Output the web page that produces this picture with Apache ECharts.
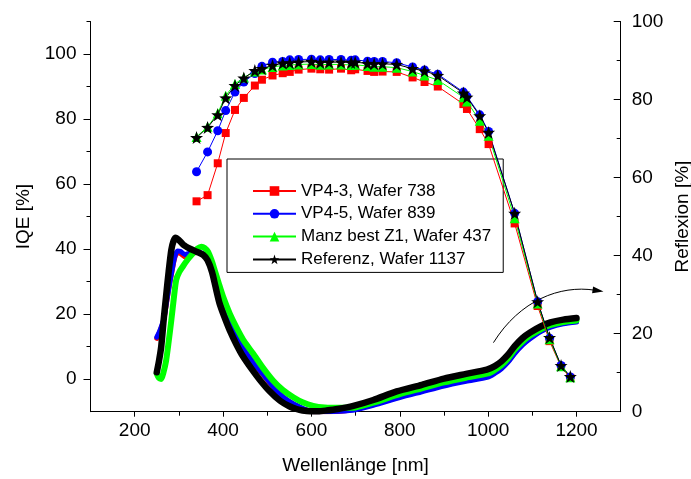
<!DOCTYPE html>
<html>
<head>
<meta charset="utf-8">
<script src="https://cdn.jsdelivr.net/npm/echarts@6/dist/echarts.min.js"></script>
<style>
  html, body { margin: 0; padding: 0; background: #fff; }
  #chart { width: 691px; height: 479px; }
</style>
</head>
<body>
<div id="chart"></div>
<script>
// Wavelengths [nm] of the IQE measurement points (shared by all wafers)
const wlIQE = [340, 365, 388, 406, 427, 447, 472, 488, 512, 535, 551, 571, 600, 620, 640, 667, 690, 699,
               727, 742, 761, 793, 829, 856, 886, 944, 952, 981, 1001, 1060, 1112, 1139, 1165, 1186];

// IQE [%]
const iqeVP43 = [54.7, 56.6, 66.4, 75.7, 82.8, 86.5, 90.3, 92.1, 93.4, 94.1, 94.5, 95.2, 95.5, 95.3, 95.2, 95.5, 95.0, 95.3,
                 94.8, 94.5, 94.6, 94.5, 92.8, 91.4, 90.0, 84.6, 83.1, 76.9, 72.3, 47.9, 22.5, 11.7, 3.8, 0.4];
const iqeVP45 = [63.8, 69.9, 76.4, 82.6, 88.3, 91.4, 94.0, 96.2, 97.5, 97.7, 98.2, 98.3, 98.4, 98.2, 98.3, 98.3, 98.1, 98.2,
                 97.8, 97.7, 97.7, 97.3, 96.0, 95.1, 93.8, 88.3, 87.0, 81.3, 76.2, 51.0, 23.8, 12.6, 4.2, 0.7];
const iqeManz = [74.5, 77.6, 81.8, 87.2, 90.8, 92.8, 94.6, 95.2, 96.0, 96.5, 96.6, 96.8, 96.9, 96.7, 96.8, 96.8, 96.6, 96.7,
                 96.3, 96.1, 96.1, 95.8, 94.6, 93.4, 92.0, 86.7, 85.4, 79.5, 74.9, 49.5, 23.3, 12.3, 4.0, 0.6];
const iqeRef  = [74.3, 77.4, 81.3, 86.5, 90.3, 92.6, 94.9, 95.5, 96.5, 97.2, 97.3, 97.5, 97.7, 97.4, 97.5, 97.5, 97.4, 97.5,
                 97.1, 97.0, 97.0, 96.8, 95.5, 94.8, 93.4, 88.0, 86.7, 81.0, 75.9, 51.0, 23.8, 12.8, 4.2, 0.8];

// Reflexion [%] curves, each with its own wavelength grid
const wlReflVP4 = [250, 256, 261, 266, 272, 278, 285, 291, 297, 303, 314, 323, 333, 343, 352, 360, 367, 375, 382, 390,
                   397, 408, 420, 436, 453, 473, 495, 515, 536, 555, 574, 590, 604, 630, 665, 700, 740, 800, 850, 900,
                   950, 1000, 1015, 1030, 1045, 1060, 1078, 1095, 1120, 1140, 1170, 1200];
const reflVP43  = [18.8, 20.3, 21.8, 23.6, 27.8, 32.0, 36.3, 39.6, 40.8, 40.6, 39.7, 40.0, 40.7, 40.8, 40.5, 39.9, 38.8, 36.9, 34.5, 31.4,
                   28.5, 24.9, 21.7, 18.1, 14.9, 11.9, 8.9, 6.1, 3.7, 2.2, 1.1, 0.4, 0.0, 0.0, 0.1, 0.7, 1.8, 3.8, 5.3, 6.8,
                   8.0, 9.1, 10.0, 11.2, 12.9, 15.1, 17.3, 18.9, 20.8, 21.8, 22.7, 23.1];
const reflVP45  = [19.1, 20.5, 22.0, 23.8, 28.0, 32.2, 36.5, 39.8, 41.2, 41.1, 40.3, 40.6, 41.0, 41.0, 40.6, 40.0, 38.9, 37.0, 34.6, 31.5,
                   28.6, 25.0, 21.8, 18.2, 15.0, 12.0, 9.0, 6.2, 3.8, 2.3, 1.2, 0.4, 0.0, 0.0, 0.1, 0.5, 1.6, 3.6, 5.1, 6.6,
                   7.8, 8.9, 9.8, 11.0, 12.7, 14.9, 17.1, 18.7, 20.6, 21.6, 22.5, 23.0];

const wlReflManz = [250, 255, 260, 265, 271, 277, 283, 289, 294, 301, 309, 320, 332, 342, 351, 358, 366, 374, 381, 390,
                    400, 415, 430, 448, 468, 490, 513, 535, 559, 580, 604, 630, 665, 700, 740, 800, 850, 900, 950, 1000,
                    1015, 1030, 1045, 1060, 1078, 1095, 1120, 1140, 1170, 1200];
const reflManz   = [9.7, 8.6, 8.4, 10.0, 13.0, 18.0, 23.5, 29.5, 33.8, 35.8, 37.2, 39.0, 40.6, 41.8, 42.3, 42.0, 41.0, 38.8, 36.3, 33.0,
                    29.5, 25.2, 21.7, 18.0, 14.9, 11.3, 8.0, 5.6, 3.7, 2.4, 1.5, 1.1, 1.0, 1.1, 2.3, 4.5, 6.0, 7.5, 8.7, 9.8,
                    10.7, 11.9, 13.6, 15.9, 18.0, 19.5, 21.2, 22.2, 23.0, 23.4];

const wlReflRef = [250, 255, 260, 266, 271, 277, 283, 288, 293, 300, 310, 325, 340, 355, 365, 375, 383, 392, 403, 415,
                   430, 445, 465, 483, 505, 529, 550, 566, 580, 597, 615, 634, 660, 695, 740, 793, 850, 900, 950, 997,
                   1015, 1030, 1045, 1060, 1078, 1095, 1120, 1141, 1170, 1200];
const reflRef   = [10.1, 13.0, 16.6, 24.0, 29.5, 36.0, 41.5, 43.8, 44.6, 44.0, 42.8, 41.8, 41.0, 40.2, 38.8, 35.8, 32.0, 27.8, 24.3, 20.9,
                   17.3, 14.2, 10.9, 8.2, 5.3, 2.8, 1.4, 0.7, 0.3, 0.1, 0.1, 0.3, 0.7, 1.5, 3.0, 5.2, 6.9, 8.5, 9.7, 10.8,
                   11.7, 12.9, 14.6, 16.8, 18.9, 20.3, 21.9, 22.9, 23.6, 24.0];

// Axis ticks
const xMajor = [200, 400, 600, 800, 1000, 1200];
const xMinor = [300, 500, 700, 900, 1100];
const yMajor = [0, 20, 40, 60, 80, 100];
const yMinor = [10, 30, 50, 70, 90, 110];

// Arrow pointing from the reflexion curves to the right-hand axis: start, control 1, control 2, tip (nm, Reflexion %)
const arrowPath = [[1012, 17.7], [1072, 28.6], [1163, 32.5], [1261, 30.8]];

const FONT = 'Liberation Sans, Arial, sans-serif';
const zip = (xs, ys) => xs.map((x, i) => [x, ys[i]]);
const plain = v => String(v);

const names = ['VP4-3, Wafer 738', 'VP4-5, Wafer 839', 'Manz best Z1, Wafer 437', 'Referenz, Wafer 1137'];
const colors = ['#ff0000', '#0000ff', '#00ff00', '#000000'];

function reflSeries(name, xs, ys, color, width) {
  return {
    name: name, type: 'line', xAxisIndex: 0, yAxisIndex: 2,
    data: zip(xs, ys), showSymbol: false, smooth: 0.25, silent: true, z: 2,
    lineStyle: { color: color, width: width, cap: 'round', join: 'round' }
  };
}
function iqeSeries(name, ys, color, symbol, size) {
  return {
    name: name, type: 'line', xAxisIndex: 0, yAxisIndex: 0,
    data: zip(wlIQE, ys), symbol: symbol, symbolSize: size, z: 5,
    lineStyle: { color: color, width: 1 },
    itemStyle: { color: color, borderWidth: 0 }
  };
}

const chart = echarts.init(document.getElementById('chart'), null, { renderer: 'canvas' });

const labelStyle = { color: '#000', fontSize: 19, fontFamily: FONT };

chart.setOption({
  animation: false,
  backgroundColor: '#fff',
  textStyle: { fontFamily: FONT },
  grid: { left: 90.5, right: 70.3, top: 21.5, bottom: 67.3, containLabel: false, outerBoundsMode: 'none' },
  legend: {
    data: names,
    orient: 'vertical',
    left: 227, top: 159,
    padding: [22, 12, 3, 25],
    itemWidth: 43, itemHeight: 12, itemGap: 2.8,
    borderColor: '#000', borderWidth: 1, backgroundColor: '#fff',
    textStyle: { color: '#000', fontSize: 17, fontFamily: FONT, lineHeight: 20 },
    selectedMode: false
  },
  xAxis: [
    {
      type: 'value', min: 100, max: 1300, position: 'bottom',
      name: 'Wellenlänge [nm]', nameLocation: 'middle', nameGap: 45,
      nameTextStyle: labelStyle,
      axisLine: { onZero: false, lineStyle: { color: '#000', width: 1 } },
      axisTick: { customValues: xMajor, length: 5, lineStyle: { color: '#000', width: 1 } },
      axisLabel: Object.assign({ customValues: xMajor, margin: 10, formatter: plain }, labelStyle),
      splitLine: { show: false }
    },
    {
      type: 'value', min: 100, max: 1300, position: 'bottom',
      axisLine: { show: false, onZero: false },
      axisTick: { customValues: xMinor, length: 4, lineStyle: { color: '#000', width: 1 } },
      axisLabel: { show: false },
      splitLine: { show: false }
    }
  ],
  yAxis: [
    {
      type: 'value', min: -10, max: 110, position: 'left',
      name: 'IQE [%]', nameLocation: 'middle', nameGap: 57, nameRotate: 90,
      nameTextStyle: labelStyle,
      axisLine: { show: true, onZero: false, lineStyle: { color: '#000', width: 1 } },
      axisTick: { show: true, customValues: yMajor, length: 7, lineStyle: { color: '#000', width: 1 } },
      axisLabel: Object.assign({ customValues: yMajor, margin: 14, formatter: plain }, labelStyle),
      splitLine: { show: false }
    },
    {
      type: 'value', min: -10, max: 110, position: 'left',
      axisLine: { show: false, onZero: false },
      axisTick: { show: true, customValues: yMinor, length: 4, lineStyle: { color: '#000', width: 1 } },
      axisLabel: { show: false },
      splitLine: { show: false }
    },
    {
      type: 'value', min: 0, max: 100, interval: 20, position: 'right',
      name: 'Reflexion [%]', nameLocation: 'middle', nameGap: 53, nameRotate: 90,
      nameMoveOverlap: false,
      nameTextStyle: labelStyle,
      axisLine: { show: true, onZero: false, lineStyle: { color: '#000', width: 1 } },
      axisTick: { show: true, inside: true, length: 7, lineStyle: { color: '#000', width: 1 } },
      minorTick: { show: true, splitNumber: 2, length: 4, lineStyle: { color: '#000', width: 1 } },
      axisLabel: Object.assign({ margin: 11, formatter: plain }, labelStyle),
      splitLine: { show: false }
    }
  ],
  series: [
    reflSeries('Reflexion VP4-3', wlReflVP4, reflVP43, colors[0], 5),
    reflSeries('Reflexion VP4-5', wlReflVP4, reflVP45, colors[1], 5),
    reflSeries('Reflexion Manz', wlReflManz, reflManz, colors[2], 6),
    reflSeries('Reflexion Referenz', wlReflRef, reflRef, colors[3], 6.5),
    iqeSeries(names[0], iqeVP43, colors[0], 'rect', 8),
    iqeSeries(names[1], iqeVP45, colors[1], 'circle', 9),
    iqeSeries(names[2], iqeManz, colors[2], 'triangle', 10),
    iqeSeries(names[3], iqeRef, colors[3], 'path://M0,-10 L2.35,-3.24 L9.51,-3.09 L3.8,1.24 L5.88,8.09 L0,4 L-5.88,8.09 L-3.8,1.24 L-9.51,-3.09 L-2.35,-3.24 Z', 13)
  ]
});

// Curved arrow drawn in data coordinates of the reflexion axis
const px = arrowPath.map(p => chart.convertToPixel({ xAxisIndex: 0, yAxisIndex: 2 }, p));
const [p0, c1, c2, tip] = px;
const dx = tip[0] - c2[0], dy = tip[1] - c2[1];
const len = Math.hypot(dx, dy);
const ux = dx / len, uy = dy / len;
const headL = 11, headW = 3.5;
const bx = tip[0] - ux * headL, by = tip[1] - uy * headL;
chart.setOption({
  graphic: [
    {
      type: 'bezierCurve', z: 10, silent: true,
      shape: { x1: p0[0], y1: p0[1], cpx1: c1[0], cpy1: c1[1], cpx2: c2[0], cpy2: c2[1],
               x2: bx + ux * 2, y2: by + uy * 2 },
      style: { stroke: '#000', lineWidth: 1, fill: null }
    },
    {
      type: 'polygon', z: 10, silent: true,
      shape: { points: [tip, [bx - uy * headW, by + ux * headW], [bx + uy * headW, by - ux * headW]] },
      style: { fill: '#000' }
    }
  ]
});
</script>
</body>
</html>
